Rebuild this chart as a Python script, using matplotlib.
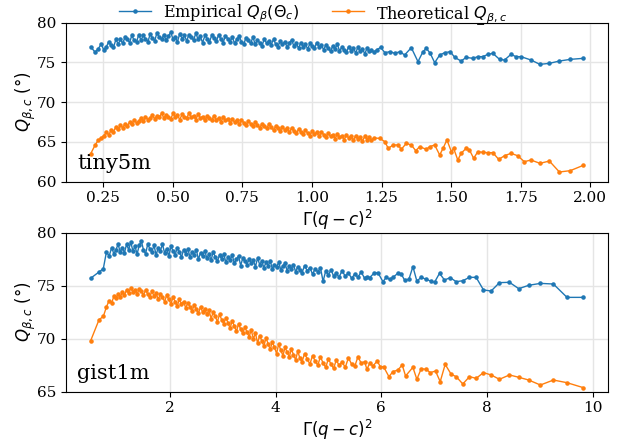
import numpy as np
import matplotlib
matplotlib.use("Agg")
import matplotlib.pyplot as plt

plt.rcParams['font.family'] = ['DejaVu Serif']
plt.rcParams['mathtext.fontset'] = 'dejavusans'

# ---------------- tiny5m panel ----------------
tiny_x_dense = [
    0.205, 0.221, 0.232, 0.243, 0.252, 0.262, 0.270, 0.279, 0.287, 0.296,
    0.304, 0.312, 0.320, 0.329, 0.337, 0.345, 0.353, 0.361, 0.370, 0.378,
    0.386, 0.394, 0.402, 0.411, 0.419, 0.427, 0.435, 0.443, 0.452, 0.460,
    0.468, 0.476, 0.484, 0.493, 0.501, 0.509, 0.517, 0.525, 0.534, 0.542,
    0.550, 0.558, 0.566, 0.575, 0.583, 0.591, 0.599, 0.607, 0.616, 0.624,
    0.632, 0.640, 0.648, 0.657, 0.665, 0.673, 0.681, 0.689, 0.698, 0.706,
    0.714, 0.722, 0.730, 0.739, 0.747, 0.755, 0.763, 0.771, 0.780, 0.788,
    0.796, 0.804, 0.812, 0.821, 0.829, 0.837, 0.845, 0.853, 0.862, 0.870,
    0.878, 0.886, 0.894, 0.903, 0.911, 0.919, 0.927, 0.935, 0.944, 0.952,
    0.960, 0.968, 0.976, 0.985, 0.993, 1.001, 1.009, 1.017, 1.026, 1.034,
    1.042, 1.050, 1.058, 1.067, 1.075, 1.083, 1.091, 1.099, 1.108, 1.116,
    1.124, 1.132, 1.140, 1.149, 1.157, 1.165, 1.173, 1.181, 1.190, 1.198,
    1.206, 1.214, 1.222,
]
tiny_emp_dense = [
    76.98, 76.3, 76.7, 77.3, 76.6, 77.0, 77.6, 77.2, 76.9, 77.9,
    77.3, 77.9, 77.4, 78.2, 77.9, 77.5, 78.4, 77.8, 77.6, 78.5,
    77.8, 78.4, 78.0, 77.6, 78.6, 78.1, 77.7, 78.7, 78.2, 77.9,
    78.5, 77.8, 78.3, 78.8, 77.9, 78.2, 77.6, 78.6, 78.0, 78.4,
    77.7, 78.5, 78.2, 77.8, 78.7, 77.9, 78.3, 77.5, 78.4, 78.0,
    77.6, 78.4, 78.1, 77.7, 78.5, 77.9, 77.5, 78.3, 78.0, 77.6,
    78.2, 77.4, 77.9, 78.3, 77.6, 77.3, 78.1, 77.8, 77.4, 78.2,
    77.3, 77.8, 77.5, 77.1, 78.0, 77.4, 77.7, 77.2, 77.9, 77.3,
    77.0, 77.7, 77.3, 77.6, 76.9, 77.5, 77.8, 77.1, 77.4, 76.8,
    77.5, 77.0, 77.3, 76.7, 77.4, 77.1, 76.8, 77.5, 76.9, 77.2,
    76.6, 77.2, 76.8, 76.4, 77.1, 76.7, 77.3, 76.5, 76.9, 76.6,
    76.3, 77.0, 76.5, 76.8, 76.2, 76.9, 76.4, 76.7, 76.1, 76.8,
    76.4, 76.6, 76.3,
]
tiny_theo_dense = [
    63.5, 64.6, 65.2, 65.5, 65.8, 66.2, 65.9, 66.5, 66.3, 66.9,
    66.6, 67.1, 66.8, 67.3, 67.0, 67.5, 67.2, 67.8, 67.4, 67.6,
    68.0, 67.6, 68.2, 67.8, 68.0, 68.4, 67.9, 68.3, 68.1, 68.6,
    68.0, 68.4, 68.2, 67.9, 68.6, 68.1, 68.4, 67.8, 68.5, 68.2,
    68.0, 68.6, 68.1, 68.3, 67.8, 68.5, 68.0, 68.2, 67.7, 68.3,
    68.0, 67.7, 68.3, 67.8, 68.0, 67.5, 68.1, 67.7, 67.9, 67.4,
    67.9, 67.5, 67.7, 67.2, 67.8, 67.4, 67.1, 67.6, 67.3, 67.0,
    67.5, 67.1, 66.8, 67.3, 67.0, 66.7, 67.2, 66.9, 66.5, 67.0,
    66.7, 66.4, 66.9, 66.5, 66.7, 66.2, 66.8, 66.4, 66.1, 66.6,
    66.3, 66.0, 66.5, 66.1, 65.8, 66.4, 66.0, 66.2, 65.7, 66.3,
    65.9, 65.6, 66.1, 65.7, 65.9, 65.4, 66.0, 65.6, 65.8, 65.3,
    65.9, 65.5, 65.7, 65.2, 65.8, 65.4, 65.6, 65.1, 65.7, 65.3,
    65.6, 65.2, 65.5,
]
tiny_x_emp_sparse = [
    1.232, 1.247, 1.262, 1.280, 1.298, 1.316, 1.333, 1.357, 1.381, 1.399,
    1.411, 1.425, 1.441, 1.459, 1.477, 1.497, 1.513, 1.536, 1.554, 1.578,
    1.596, 1.614, 1.632, 1.650, 1.674, 1.692, 1.715, 1.733, 1.751, 1.787,
    1.819, 1.853, 1.889, 1.928, 1.975,
]
tiny_emp_sparse = [
    76.57, 76.9, 76.23, 76.36, 76.15, 76.36, 75.94, 76.86, 75.1, 76.36,
    76.78, 76.15, 74.97, 75.94, 76.23, 76.36, 75.64, 75.18, 75.64, 75.52,
    75.73, 75.73, 76.02, 76.15, 75.39, 75.31, 76.02, 75.73, 75.73, 75.31,
    74.76, 74.89, 75.18, 75.39, 75.52,
]
tiny_x_theo_sparse = [
    1.244, 1.262, 1.274, 1.292, 1.310, 1.321, 1.339, 1.357, 1.373, 1.387,
    1.411, 1.423, 1.441, 1.459, 1.471, 1.485, 1.501, 1.509, 1.524, 1.536,
    1.554, 1.566, 1.581, 1.596, 1.614, 1.632, 1.650, 1.671, 1.692, 1.715,
    1.739, 1.763, 1.787, 1.819, 1.853, 1.889, 1.928, 1.975,
]
tiny_theo_sparse = [
    65.45, 65.03, 64.2, 64.62, 64.62, 64.07, 64.82, 64.62, 63.9, 64.41,
    64.07, 64.41, 64.62, 63.36, 64.2, 65.25, 63.78, 64.2, 62.73, 63.57,
    64.2, 63.99, 62.94, 63.78, 63.69, 63.65, 63.65, 62.81, 63.27, 63.57,
    63.27, 62.52, 62.73, 62.31, 62.6, 61.22, 61.39, 62.06,
]

# ---------------- gist1m panel ----------------
gist_x_dense = [
    0.50, 0.66, 0.74, 0.80, 0.85, 0.90, 0.94, 0.98, 1.02, 1.06,
    1.10, 1.14, 1.18, 1.22, 1.26, 1.30, 1.34, 1.38, 1.42, 1.46,
    1.50, 1.54, 1.58, 1.62, 1.66, 1.70, 1.74, 1.78, 1.82, 1.86,
    1.90, 1.94, 1.98, 2.02, 2.06, 2.10, 2.14, 2.18, 2.22, 2.26,
    2.30, 2.34, 2.38, 2.42, 2.46, 2.50, 2.54, 2.58, 2.62, 2.66,
    2.70, 2.74, 2.78, 2.82, 2.86, 2.90, 2.94, 2.98, 3.02, 3.06,
    3.10, 3.14, 3.18, 3.22, 3.26, 3.30, 3.34, 3.38, 3.42, 3.46,
    3.50, 3.54, 3.58, 3.62, 3.66, 3.70, 3.74, 3.78, 3.82, 3.86,
    3.90, 3.94, 3.98, 4.02, 4.06, 4.10, 4.14, 4.18, 4.22, 4.26,
    4.30, 4.34, 4.38, 4.42, 4.46, 4.50, 4.55, 4.60, 4.65, 4.70,
    4.75, 4.80, 4.85, 4.90, 4.95, 5.00, 5.05, 5.10, 5.15, 5.20,
    5.26, 5.32, 5.38, 5.44, 5.50, 5.56, 5.62,
]
gist_emp_dense = [
    75.7, 76.3, 76.6, 78.2, 77.8, 78.6, 78.0, 78.4, 78.9, 78.2,
    78.6, 78.1, 78.9, 78.4, 79.1, 78.3, 78.7, 78.0, 78.8, 79.2,
    78.4, 78.0, 78.9, 78.5, 78.2, 78.8, 77.9, 78.6, 78.3, 78.9,
    78.1, 78.5, 77.8, 78.7, 78.3, 77.9, 78.6, 78.2, 77.7, 78.4,
    78.0, 78.5, 77.7, 78.2, 77.9, 78.4, 77.5, 78.1, 77.8, 78.3,
    77.6, 78.0, 77.4, 78.2, 77.7, 77.3, 77.9, 77.5, 78.0, 77.2,
    77.7, 77.4, 77.9, 77.1, 77.5, 77.8, 76.9, 77.6, 77.3, 77.0,
    77.5, 77.1, 77.4, 76.8, 77.6, 77.0, 77.3, 76.7, 77.2, 76.9,
    77.3, 76.6, 77.0, 76.8, 77.2, 76.5, 76.9, 77.1, 76.4, 76.9,
    76.6, 77.0, 76.3, 76.8, 76.5, 76.2, 76.9, 76.4, 76.7, 76.1,
    76.6, 76.3, 76.7, 75.4, 76.4, 76.0, 76.5, 75.9, 76.2, 75.8,
    76.4, 75.9, 76.2, 75.7, 76.1, 75.8, 76.3,
]
gist_theo_dense = [
    69.8, 71.8, 72.1, 73.0, 73.6, 73.4, 74.0, 73.8, 74.2, 73.9,
    74.4, 74.1, 74.6, 74.3, 74.8, 74.4, 74.6, 74.2, 74.7, 74.5,
    74.1, 74.6, 74.2, 73.9, 74.5, 74.0, 74.3, 73.7, 74.2, 73.9,
    73.5, 74.1, 73.7, 73.3, 73.9, 73.5, 73.1, 73.7, 73.3, 73.5,
    72.9, 73.4, 73.0, 72.6, 73.2, 72.8, 72.4, 73.0, 72.5, 72.8,
    72.3, 72.7, 71.9, 72.5, 72.1, 71.6, 72.3, 71.8, 71.4, 72.0,
    71.5, 71.0, 71.7, 71.2, 70.7, 71.4, 70.9, 70.5, 71.1, 70.6,
    70.2, 70.8, 70.0, 70.5, 69.6, 70.3, 69.8, 69.3, 70.1, 69.5,
    69.0, 69.7, 69.2, 68.6, 69.5, 68.9, 68.4, 69.2, 68.7, 68.3,
    69.0, 68.5, 68.0, 68.8, 68.2, 67.8, 68.6, 68.1, 67.6, 68.4,
    67.9, 67.5, 68.3, 67.7, 67.3, 68.1, 67.6, 67.2, 68.0, 67.5,
    67.8, 67.3, 68.2, 67.6, 67.4, 68.3, 67.7,
]
gist_x_emp_sparse = [
    5.686, 5.730, 5.781, 5.862, 5.938, 6.033, 6.096, 6.159, 6.222, 6.316,
    6.379, 6.442, 6.524, 6.600, 6.675, 6.757, 6.852, 6.934, 7.009, 7.104,
    7.198, 7.306, 7.419, 7.545, 7.671, 7.797, 7.936, 8.081, 8.238, 8.427,
    8.604, 8.793, 9.013, 9.259, 9.517, 9.826,
]
gist_emp_sparse = [
    75.7, 75.85, 75.76, 76.17, 76.23, 75.38, 75.79, 75.6, 75.79, 76.17,
    76.1, 75.54, 75.6, 76.8, 75.44, 75.79, 75.6, 75.44, 75.32, 76.17,
    75.54, 75.76, 75.38, 75.47, 75.79, 75.79, 74.6, 74.5, 75.29, 75.32,
    74.72, 75.04, 75.22, 75.16, 73.9, 73.9,
]
gist_x_theo_sparse = [
    5.686, 5.730, 5.781, 5.844, 5.926, 5.982, 6.045, 6.146, 6.222, 6.316,
    6.398, 6.461, 6.600, 6.675, 6.757, 6.852, 6.928, 7.028, 7.117, 7.211,
    7.325, 7.419, 7.545, 7.671, 7.797, 7.936, 8.081, 8.238, 8.427, 8.604,
    8.793, 9.013, 9.259, 9.517, 9.826,
]
gist_theo_sparse = [
    67.83, 67.11, 67.68, 67.43, 67.9, 67.36, 67.36, 66.42, 66.89, 67.05,
    67.52, 66.48, 67.3, 66.17, 67.17, 67.11, 66.8, 66.95, 65.95, 67.58,
    66.64, 66.42, 65.73, 66.42, 66.26, 66.8, 66.58, 66.17, 66.58, 66.36,
    66.1, 65.63, 66.1, 65.85, 65.38,
]

datasets = ["tiny5m", "gist1m"]
ylims = [(60, 80), (65, 80)]
legend_labels = [r"Empirical $Q_{\beta}(\Theta_c)$",
                 r"Theoretical $\underset{-}{Q}_{\beta,c}$"]

panels = [
    (tiny_x_dense + tiny_x_emp_sparse, tiny_emp_dense + tiny_emp_sparse,
     tiny_x_dense + tiny_x_theo_sparse, tiny_theo_dense + tiny_theo_sparse),
    (gist_x_dense + gist_x_emp_sparse, gist_emp_dense + gist_emp_sparse,
     gist_x_dense + gist_x_theo_sparse, gist_theo_dense + gist_theo_sparse),
]

fig = plt.figure(figsize=(6.26, 4.42), dpi=100)
ax_top = fig.add_axes([0.1054, 0.5889, 0.8658, 0.3597])
ax_bot = fig.add_axes([0.1054, 0.1138, 0.8658, 0.3597])
axes = [ax_top, ax_bot]

for ax, name, yl, (xe, ye, xt, yt) in zip(axes, datasets, ylims, panels):
    ax.plot(xe, ye, color='tab:blue', marker='.', markersize=4.5, linewidth=1,
            label=legend_labels[0])
    ax.plot(xt, yt, color='tab:orange', marker='.', markersize=4.5, linewidth=1,
            label=legend_labels[1])
    ax.set_ylim(*yl)
    ax.grid(True, color='#e5e5e5', linewidth=1)
    ax.set_axisbelow(True)
    ax.tick_params(labelsize=11)
    ax.set_xlabel(r"$\Gamma(q-c)^2$", fontsize=12, family='DejaVu Sans',
                  labelpad=2)
    ax.set_ylabel(r"$Q_{\beta,c}$ (°)", fontsize=12, family='DejaVu Sans',
                  labelpad=-1)
    ax.text(0.021, 0.078, name, transform=ax.transAxes, fontsize=15,
            va='baseline', ha='left')

ax_top.set_yticks([60, 65, 70, 75, 80])
ax_top.set_xticks([0.25, 0.5, 0.75, 1.0, 1.25, 1.5, 1.75, 2.0])
ax_bot.set_yticks([65, 70, 75, 80])
ax_bot.set_xticks([2, 4, 6, 8, 10])

handles, labels = ax_top.get_legend_handles_labels()
fig.legend(handles, labels, loc='upper center', bbox_to_anchor=(0.5, 1.028),
           ncol=2, frameon=False, fontsize=11.5, handlelength=2.0)

fig.savefig("out.png", dpi=100)
